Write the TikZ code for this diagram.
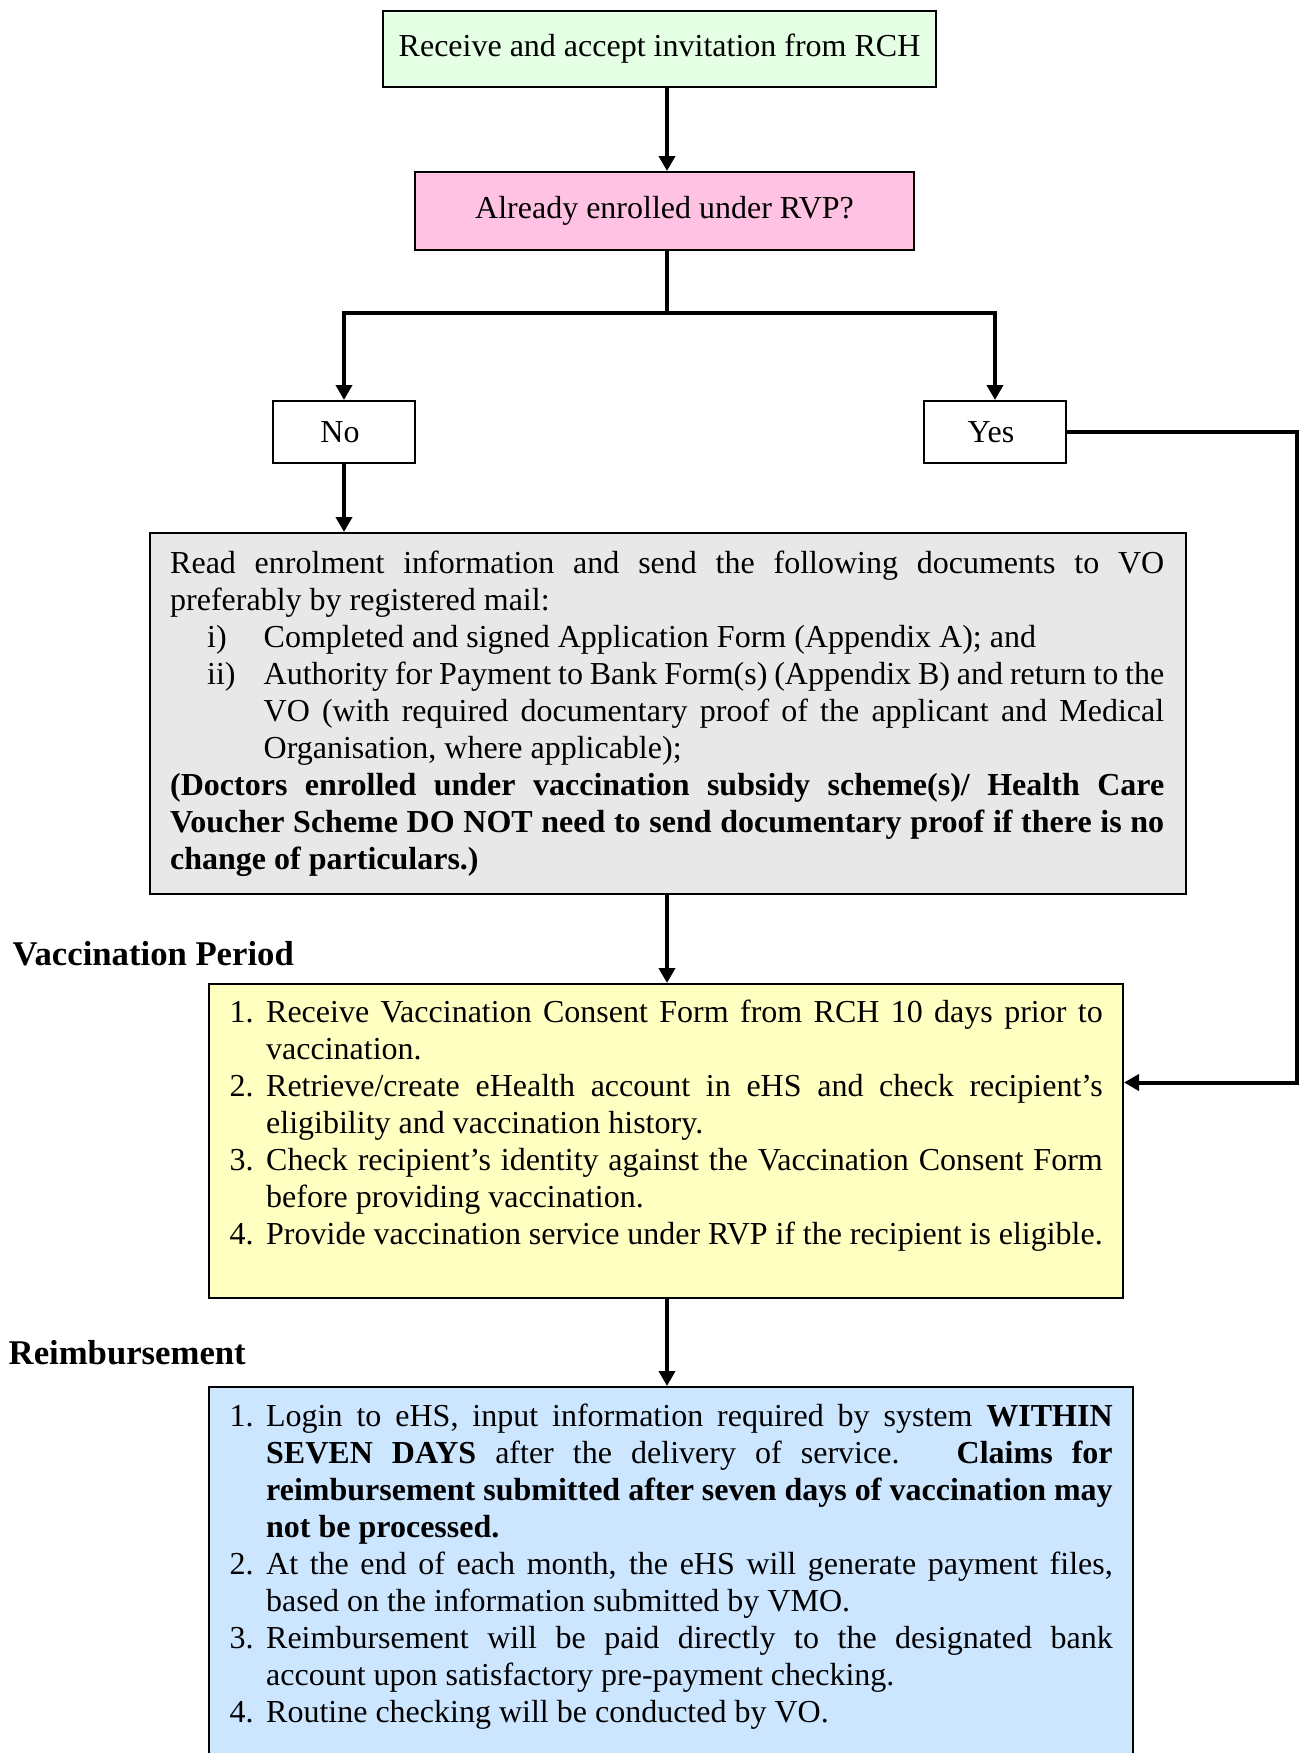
\documentclass[tikz,border=0pt]{standalone}
\usepackage{fontspec}
\setmainfont{Liberation Serif}
\usetikzlibrary{arrows.meta,calc}
\definecolor{cgreen}{RGB}{229,255,229}
\definecolor{cpink}{RGB}{255,194,226}
\definecolor{cgray}{RGB}{232,232,232}
\definecolor{cyellow}{RGB}{255,255,193}
\definecolor{cblue}{RGB}{204,230,255}
\newcommand{\hitemx}[3]{\hangindent=#1\hangafter=1\makebox[#1][l]{\strut\hspace*{#2}#3}\ignorespaces}
\newcommand{\hitem}{\par\noindent\hitemx}
\newcommand{\bodyfont}{\fontsize{32}{37}\selectfont\parindent=0pt\parskip=0pt\hyphenpenalty=10000\exhyphenpenalty=10000\tolerance=9999\emergencystretch=20pt\relax}
\newcommand{\lblfont}{\fontsize{34.7}{40}\selectfont\bfseries}
\begin{document}
\begin{tikzpicture}[x=1pt,y=-1pt,
  txt/.style={font=\bodyfont},
  box/.style={txt,draw=black,line width=2pt,inner sep=0pt,align=center},
  panel/.style={draw=black,line width=2pt,inner sep=0pt,anchor=north west},
  body/.style={txt,inner sep=0pt,anchor=north west,align=justify},
  lbl/.style={font=\lblfont,inner sep=0pt,anchor=base west},
  conn/.style={line width=4pt},
  arr/.style={line width=4pt,-{Triangle[width=16pt,length=15pt]}}]
\path[use as bounding box,clip] (0,0) rectangle (1299,1753);
\fill[white] (0,0) rectangle (1299,1753);

\coordinate (spine) at (667,0);
\coordinate (rt) at (1297,0);

\node[box,fill=cgreen,minimum width=553pt,minimum height=76pt] (b1) at (659.5,49) {Receive and accept invitation from RCH};
\node[box,fill=cpink,minimum width=499pt,minimum height=78pt] (b2) at (664.5,211) {Already enrolled under RVP?};
\node[box,fill=white,minimum width=142pt,minimum height=62pt] (no) at (344,432) {No\hspace*{8pt}};
\node[box,fill=white,minimum width=142pt,minimum height=62pt] (yes) at (995,432) {Yes\hspace*{8pt}};

\node[panel,fill=cgray,minimum width=1036pt,minimum height=361pt] (gray) at (149,532) {};
\node[body,text width=994pt] (graytxt) at (170,547) {\strut Read enrolment information and send the following documents to VO\linebreak preferably by registered mail:
\hitem{93.5pt}{37pt}{i)}Completed and signed Application Form (Appendix A); and
\hitem{93.5pt}{37pt}{ii)}Authority for Payment to Bank Form(s) (Appendix B) and return to the\linebreak VO (with required documentary proof of the applicant and Medical\linebreak Organisation, where applicable);
\par\noindent\textbf{(Doctors enrolled under vaccination subsidy scheme(s)/ Health Care\linebreak Voucher Scheme DO NOT need to send documentary proof if there is no\linebreak change of particulars.)}};

\node[lbl] (vp) at (12.5,965) {Vaccination Period};

\node[panel,fill=cyellow,minimum width=914pt,minimum height=314pt] (yel) at (208,983) {};
\node[body,text width=873pt] (yeltxt) at (229.5,996) {\hitemx{36.5pt}{0pt}{1.}Receive Vaccination Consent Form from RCH 10 days prior to\linebreak vaccination.
\hitem{36.5pt}{0pt}{2.}Retrieve/create eHealth account in eHS and check recipient’s\linebreak eligibility and vaccination history.
\hitem{36.5pt}{0pt}{3.}Check recipient’s identity against the Vaccination Consent Form\linebreak before providing vaccination.
\hitem{36.5pt}{0pt}{4.}Provide vaccination service under RVP if the recipient is eligible.};

\node[lbl] (rb) at (8.5,1364) {Reimbursement};

\node[panel,fill=cblue,minimum width=924pt,minimum height=420pt] (blue) at (208,1386) {};
\node[body,text width=883pt] (bluetxt) at (229.5,1400) {\hitemx{36.5pt}{0pt}{1.}Login to eHS, input information required by system \textbf{WITHIN}\linebreak \textbf{SEVEN DAYS} after the delivery of service.\ \ \ \textbf{Claims for}\linebreak \textbf{reimbursement submitted after seven days of vaccination may}\linebreak \textbf{not be processed.}
\hitem{36.5pt}{0pt}{2.}At the end of each month, the eHS will generate payment files,\linebreak based on the information submitted by VMO.
\hitem{36.5pt}{0pt}{3.}Reimbursement will be paid directly to the designated bank\linebreak account upon satisfactory pre-payment checking.
\hitem{36.5pt}{0pt}{4.}Routine checking will be conducted by VO.};

% connectors
\draw[arr] (b1.south -| spine) -- (b2.north -| spine);
\coordinate (br) at ($(b2.south -| spine)+(0,62)$);
\draw[conn] (b2.south -| spine) -- (br);
\draw[arr] (br) -| (no.north);
\draw[arr] (br) -| (yes.north);
\draw[arr] (no.south) -- (no.south |- gray.north);
\draw[arr] (gray.south -| spine) -- (yel.north -| spine);
\draw[arr] (yel.south -| spine) -- (blue.north -| spine);
\coordinate (yin) at ($(yel.north east)+(0,99.5)$);
\draw[arr] (yes.east) -- (yes.east -| rt) -- (rt |- yin) -- (yin);
\end{tikzpicture}
\end{document}
